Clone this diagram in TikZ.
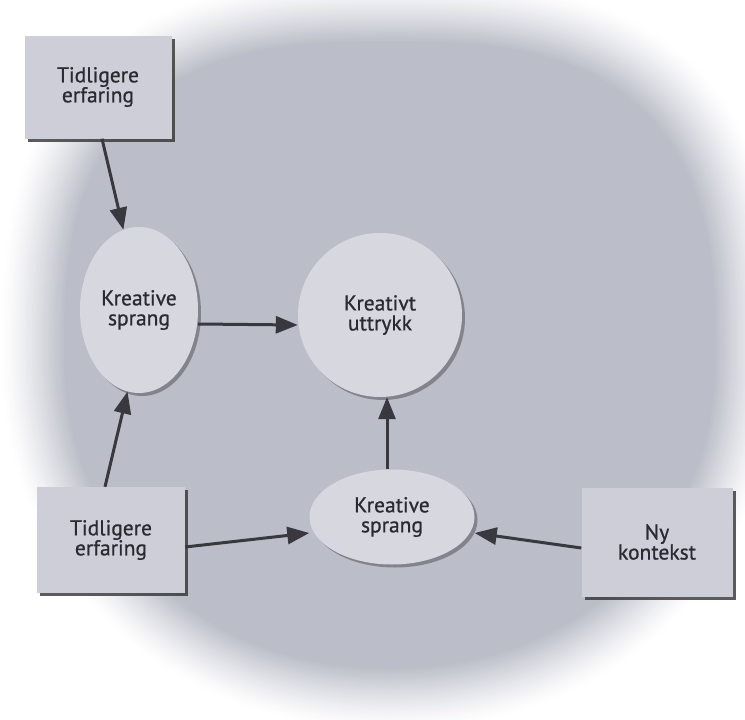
\documentclass[tikz,border=0pt]{standalone}
\usepackage{fontspec}
\setmainfont{PT Sans}
\newfontfamily\labelfamily{PT Sans}[FakeBold=0.8]
\usetikzlibrary{shapes.geometric,shadows,arrows.meta}

\definecolor{blobgrey}{HTML}{BBBDC8}
\definecolor{boxfill}{HTML}{CDCED8}
\definecolor{ovalfill}{HTML}{D7D8DF}
\definecolor{ink}{HTML}{38383E}
\definecolor{txt}{HTML}{2A2A30}

\tikzset{
  label font/.style={font=\labelfamily\fontsize{21.5}{20}\selectfont, text=txt, align=center},
  box/.style={rectangle, fill=boxfill, inner sep=0pt, label font,
    drop shadow={shadow xshift=3pt, shadow yshift=-3pt, fill=black!80, opacity=.8}},
  oval/.style={ellipse, fill=ovalfill, inner sep=0pt, label font,
    drop shadow={shadow xshift=3pt, shadow yshift=-3pt, fill=black, opacity=.3}},
  roundnode/.style={circle, fill=ovalfill, inner sep=0pt, label font,
    drop shadow={shadow xshift=3pt, shadow yshift=-3pt, fill=black, opacity=.3}},
  arr/.style={draw=ink, line width=3pt, -{Triangle[length=22pt,width=17pt]}}
}

\begin{document}
\begin{tikzpicture}[x=1pt,y=-1pt]
\useasboundingbox (0,0) rectangle (745,720);
\fill[white] (0,0) rectangle (745,720);

% grey backdrop: nested rounded outlines (flatter on top, elliptic below)
% fading softly out to white at the rim
\begin{scope}
  \clip (0,0) rectangle (745,720);
  \foreach \k in {0,...,28} {
    \pgfmathsetmacro\s{1.09-0.18*\k/28}
    \pgfmathsetmacro\p{100*(\k/28)^1.3}
    \fill[blobgrey!\p!white]
      plot[domain=0.5:360.5, samples=121]
        ({390+358*\s*sign(cos(\x))*abs(cos(\x))^(sin(\x)<0 ? 0.72 : 0.95)},
         {355+345*\s*sign(sin(\x))*abs(sin(\x))^(sin(\x)<0 ? 0.72 : 0.95)}) -- cycle;
  }
\end{scope}

% nodes
\node[box, minimum width=147pt, minimum height=103pt] (prevA) at (98,87) {Tidligere\\erfaring};
\node[box, minimum width=148pt, minimum height=106pt] (prevB) at (111,540) {Tidligere\\erfaring};
\node[box, minimum width=151pt, minimum height=109pt] (ctx) at (657,542) {Ny\\kontekst};
\node[oval, minimum width=118pt, minimum height=166pt] (leapA) at (139,310) {Kreative\\sprang};
\node[roundnode, minimum size=164pt] (expr) at (380,315) {Kreativt\\uttrykk};
\node[oval, minimum width=165pt, minimum height=95pt] (leapB) at (392,517) {Kreative\\sprang};

% connectors
\draw[arr] ([xshift=4pt]prevA.south) -- (leapA.101);
\draw[arr] ([xshift=-6pt]prevB.north) -- (leapA.262);
\draw[arr] ([yshift=-14pt]leapA.east) -- ([yshift=-10pt]expr.west);
\draw[arr] ([xshift=-5pt]leapB.north) -- ([xshift=7pt]expr.south);
\draw[arr] ([yshift=-7pt]prevB.east) -- ([yshift=-16pt]leapB.west);
\draw[arr] ([yshift=-6pt]ctx.west) -- ([yshift=-16pt]leapB.east);
\end{tikzpicture}
\end{document}
